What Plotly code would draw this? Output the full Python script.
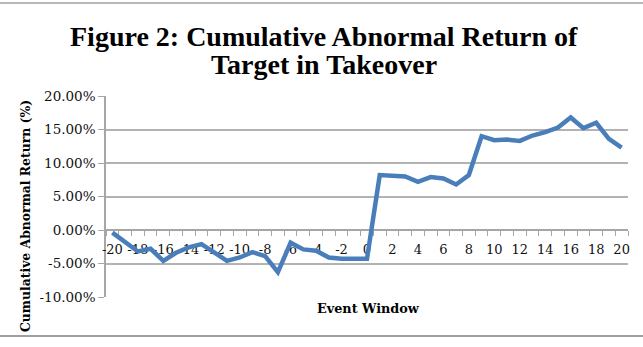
import plotly.graph_objects as go

event_days = list(range(-20, 21))
car_values = [-0.004, -0.018, -0.032, -0.028, -0.046, -0.034, -0.026, -0.021, -0.033, -0.046,
              -0.041, -0.033, -0.039, -0.063, -0.019, -0.029, -0.031, -0.041, -0.043, -0.043,
              -0.043, 0.082, 0.0805, 0.080, 0.072, 0.079, 0.077, 0.068, 0.082, 0.140,
              0.134, 0.135, 0.133, 0.141, 0.146, 0.153, 0.168, 0.152, 0.160, 0.136, 0.123]

y_tick_vals = [-0.10, -0.05, 0.0, 0.05, 0.10, 0.15, 0.20]
y_tick_text = ["-10.00%", "-5.00%", "0.00%", "5.00%", "10.00%", "15.00%", "20.00%"]
x_tick_vals = list(range(-20, 21, 2))
x_tick_text = [str(v) for v in x_tick_vals]

W, H = 643, 347
L, R, T, B = 106, 15, 96, 50
pw, ph = W - L - R, H - T - B

def px(xp):
    return (xp - L) / pw

def py(yp):
    return (H - B - yp) / ph

serif = "DejaVu Serif"

fig = go.Figure()
fig.add_trace(go.Scatter(
    x=event_days, y=car_values, mode="lines",
    line=dict(color="#4a7ebb", width=4.5),
    hoverinfo="skip", showlegend=False,
))

fig.update_layout(
    width=W, height=H,
    margin=dict(l=L, r=R, t=T, b=B, pad=0),
    paper_bgcolor="white", plot_bgcolor="white",
    xaxis=dict(
        range=[-20.5, 20.5], anchor="free", position=1/3,
        tickmode="array", tickvals=x_tick_vals, ticktext=x_tick_text,
        ticks="", showgrid=False, zeroline=False,
        showline=True, linecolor="#a6a6a6", linewidth=1.5,
        tickfont=dict(family=serif, size=13, color="#111"),
        ticklabelstandoff=8, layer="below traces",
        minor=dict(tickmode="linear", tick0=0.5, dtick=1, ticks="outside",
                   ticklen=5, tickcolor="#a6a6a6", tickwidth=1, showgrid=False),
    ),
    yaxis=dict(
        range=[-0.10, 0.20],
        tickmode="array", tickvals=y_tick_vals, ticktext=y_tick_text,
        showgrid=True, gridcolor="#b3b3b3", gridwidth=1.5,
        zeroline=False, showline=True, linecolor="#a6a6a6", linewidth=1.5,
        ticks="outside", ticklen=6, tickcolor="#a6a6a6", tickwidth=1,
        tickfont=dict(family=serif, size=13.5, color="#111"),
        layer="below traces",
    ),
    annotations=[
        dict(text="<b>Figure 2: Cumulative Abnormal Return of</b>", x=px(324), y=py(37),
             xref="paper", yref="paper", showarrow=False, xanchor="center", yanchor="middle",
             font=dict(family="Liberation Serif", size=28, color="black")),
        dict(text="<b>Target in Takeover</b>", x=px(324), y=py(65),
             xref="paper", yref="paper", showarrow=False, xanchor="center", yanchor="middle",
             font=dict(family="Liberation Serif", size=28, color="black")),
        dict(text="<b>Event Window</b>", x=px(368), y=py(308),
             xref="paper", yref="paper", showarrow=False, xanchor="center", yanchor="middle",
             font=dict(family=serif, size=12.8, color="black")),
        dict(text="<b>Cumulative Abnormal Return (%)</b>", x=px(25), y=py(216),
             xref="paper", yref="paper", showarrow=False, xanchor="center", yanchor="middle",
             textangle=-90,
             font=dict(family=serif, size=12.4, color="black")),
    ],
    shapes=[
        dict(type="line", xref="paper", yref="paper", x0=px(0), x1=px(W), y0=py(3), y1=py(3),
             line=dict(color="#a0a0a0", width=1.5)),
        dict(type="line", xref="paper", yref="paper", x0=px(0), x1=px(W), y0=py(336), y1=py(336),
             line=dict(color="#a0a0a0", width=2)),
    ],
)

fig.write_html("out.html")
